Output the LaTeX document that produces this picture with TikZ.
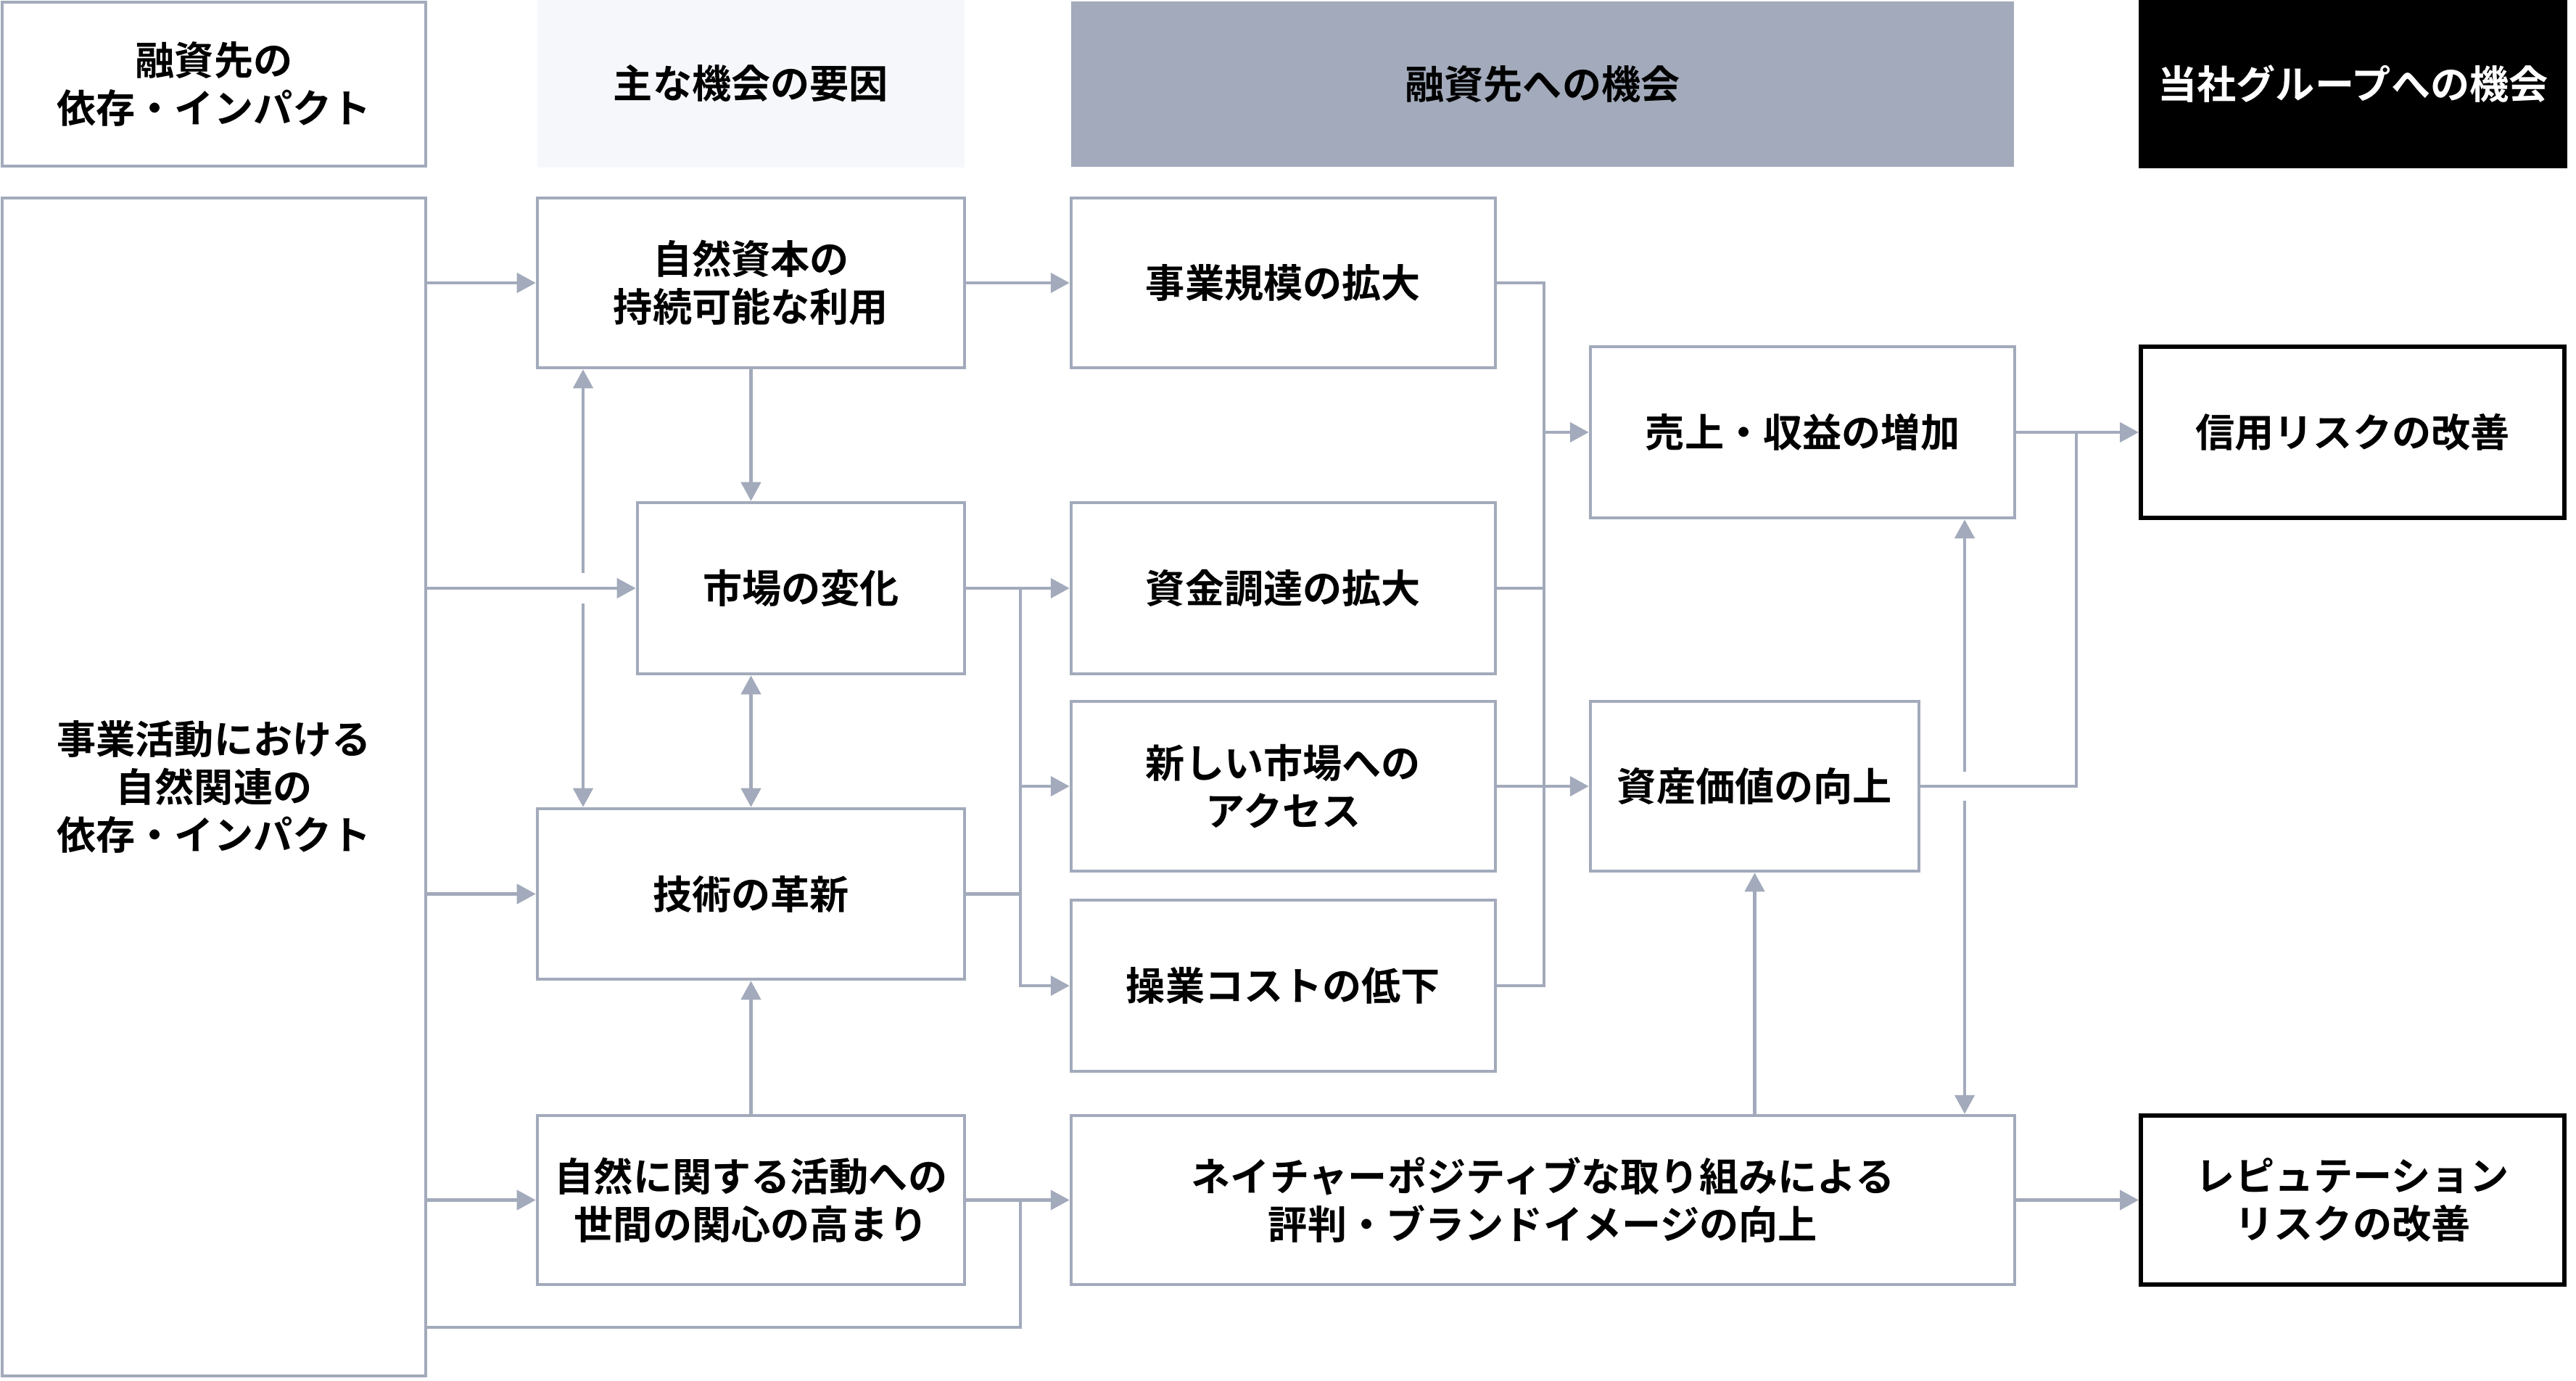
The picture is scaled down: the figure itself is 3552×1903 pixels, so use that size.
\documentclass[tikz,border=0pt]{standalone}
\usepackage{fontspec}
\setmainfont{Noto Sans CJK JP}[BoldFont={* Bold}]
\usetikzlibrary{arrows.meta,fit}
\definecolor{lg}{RGB}{162,170,187}
\definecolor{pale}{RGB}{245,247,251}
\begin{document}
\begin{tikzpicture}[x=0.01cm,y=-0.01cm,
  txt/.style={font=\fontsize{15.4pt}{18.7pt}\selectfont\bfseries, align=center, inner sep=0pt},
  box/.style={draw=lg, line width=1.28pt, fill=white, inner sep=0pt},
  kbox/.style={draw=black, line width=1.7pt, fill=white, inner sep=0pt},
  hdr/.style={draw=none, inner sep=0pt},
  line/.style={draw=lg, line width=1.28pt},
  arr/.style={line, -{Triangle[length=0.26cm,width=0.27cm]}},
  dbl/.style={line, {Triangle[length=0.26cm,width=0.27cm]}-{Triangle[length=0.26cm,width=0.27cm]}}]
\useasboundingbox (0,0) rectangle (3552,1903);
% headers
\node[box, fit={(3,3)(587,229)}, label={[txt]center:{融資先の\\依存・インパクト}}] (hA) {};
\node[hdr, fill=pale, fit={(741,0)(1330,231)}, label={[txt]center:{主な機会の要因}}] (hB) {};
\node[hdr, fill=lg, fit={(1477,2)(2777,230)}, label={[txt]center:{融資先への機会}}] (hC) {};
\node[hdr, fill=black, fit={(2949,0)(3540,232)}, label={[txt,text=white]center:{当社グループへの機会}}] (hD) {};
% boxes
\node[box, fit={(3,273)(587,1897)}, label={[txt]center:{事業活動における\\自然関連の\\依存・インパクト}}] (L) {};
\node[box, fit={(741,273)(1330,507)}, label={[txt]center:{自然資本の\\持続可能な利用}}] (nat) {};
\node[box, fit={(879,693)(1330,929)}, label={[txt]center:{市場の変化}}] (mkt) {};
\node[box, fit={(741,1115)(1330,1350)}, label={[txt]center:{技術の革新}}] (tech) {};
\node[box, fit={(741,1538)(1330,1771)}, label={[txt]center:{自然に関する活動への\\世間の関心の高まり}}] (pub) {};
\node[box, fit={(1477,273)(2062,507)}, label={[txt]center:{事業規模の拡大}}] (biz) {};
\node[box, fit={(1477,693)(2062,929)}, label={[txt]center:{資金調達の拡大}}] (fund) {};
\node[box, fit={(1477,967)(2062,1201)}, label={[txt]center:{新しい市場への\\アクセス}}] (newm) {};
\node[box, fit={(1477,1241)(2062,1477)}, label={[txt]center:{操業コストの低下}}] (cost) {};
\node[box, fit={(1477,1538)(2778,1771)}, label={[txt]center:{ネイチャーポジティブな取り組みによる\\評判・ブランドイメージの向上}}] (rep) {};
\node[box, fit={(2193,478)(2778,714)}, label={[txt]center:{売上・収益の増加}}] (sales) {};
\node[box, fit={(2193,967)(2646,1201)}, label={[txt]center:{資産価値の向上}}] (asset) {};
\node[kbox, fit={(2952,478)(3536,714)}, label={[txt]center:{信用リスクの改善}}] (credit) {};
\node[kbox, fit={(2952,1538)(3536,1771)}, label={[txt]center:{レピュテーション\\リスクの改善}}] (reput) {};
% helper coordinates
\coordinate (v1) at (804,0);
\coordinate (b1) at (1407,0);
\coordinate (bot) at (1407,1830);
\coordinate (b2) at (2129,0);
\coordinate (v2) at (2709,0);
\coordinate (b3) at (2863,0);
% connectors from left box
\draw[dbl] (v1 |- nat.south) -- (v1 |- tech.north);
\fill[white] (796,790) rectangle (812,832);
\draw[arr] (L.east |- nat.west) -- (nat.west);
\draw[arr] (L.east |- mkt.west) -- (mkt.west);
\draw[arr] (L.east |- tech.west) -- (tech.west);
\draw[arr] (L.east |- pub.west) -- (pub.west);
\draw[line] (L.east |- bot) -- (bot) -- (bot |- pub.east);
% column 2 internal
\draw[arr] (nat.south) -- (nat.south |- mkt.north);
\draw[dbl] (tech.north |- mkt.south) -- (tech.north);
\draw[arr] (pub.north) -- (tech.south);
% column 2 -> 3
\draw[arr] (nat.east) -- (biz.west);
\draw[arr] (mkt.east) -- (fund.west);
\draw[line] (tech.east) -- (b1 |- tech.east);
\draw[arr] (b1 |- fund.west) -- (b1 |- cost.west) -- (cost.west);
\draw[arr] (b1 |- newm.west) -- (newm.west);
\draw[arr] (pub.east) -- (rep.west);
% column 3 -> 4
\draw[line] (biz.east) -- (b2 |- biz.east) -- (b2 |- cost.east) -- (cost.east);
\draw[line] (fund.east) -- (b2 |- fund.east);
\draw[arr] (b2 |- sales.west) -- (sales.west);
\draw[arr] (newm.east) -- (asset.west);
\draw[arr] (asset.south |- rep.north) -- (asset.south);
% column 4 -> 5
\draw[dbl] (v2 |- sales.south) -- (v2 |- rep.north);
\fill[white] (2701,1064) rectangle (2717,1104);
\draw[line] (asset.east) -- (b3 |- asset.east) -- (b3 |- sales.east);
\draw[arr] (sales.east) -- (credit.west);
\draw[arr] (rep.east) -- (reput.west);
\end{tikzpicture}
\end{document}
